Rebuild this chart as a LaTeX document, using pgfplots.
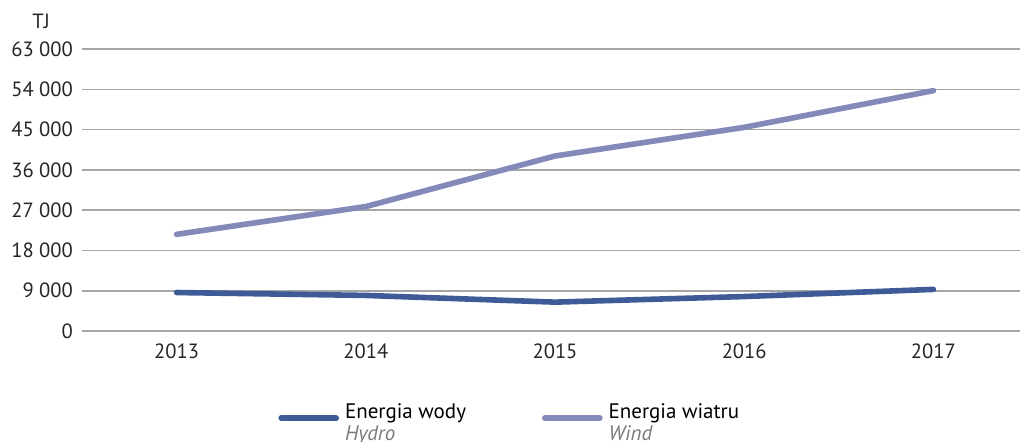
\documentclass[border=0pt]{standalone}
\usepackage{pgfplots}
\pgfplotsset{compat=1.18}
\usepackage{fontspec}
\setmainfont{PT Sans}
\definecolor{hydro}{HTML}{3E5A97}
\definecolor{wind}{HTML}{8389B8}
\definecolor{gridc}{HTML}{A6A6A6}
\definecolor{subc}{HTML}{7A7A7A}
\begin{document}
\begin{tikzpicture}
\begin{axis}[
  at={(0,0)}, anchor=south west,
  scale only axis, width=473pt, height=141pt,
  xmin=2012.5, xmax=2017.5, ymin=0, ymax=63000,
  scaled y ticks=false, scaled x ticks=false,
  xtick={2013,2014,2015,2016,2017},
  xticklabels={\mbox{2013},\mbox{2014},\mbox{2015},\mbox{2016},\mbox{2017}},
  ytick={0,9000,18000,27000,36000,45000,54000,63000},
  yticklabels={\mbox{0},\mbox{9 000},\mbox{18 000},\mbox{27 000},\mbox{36 000},\mbox{45 000},\mbox{54 000},\mbox{63 000}},
  axis line style={draw=none},
  major tick style={draw=none},
  ymajorgrids,
  grid style={gridc, line width=0.8pt},
  tick label style={font=\fontsize{10.3}{12}\selectfont, text=black!85},
  yticklabel style={xshift=-1pt},
  xticklabel style={yshift=-3pt},
  clip=false,
  legend columns=2,
  legend image code/.code={\draw[#1, line cap=round] (0pt,0pt) -- (27.5pt,0pt);},
  legend style={draw=none, fill=none, font=\fontsize{10.5}{11.5}\selectfont,
    at={(0.2072,-0.309)}, anchor=west, inner xsep=0pt,
    /tikz/every odd column/.append style={column sep=1pt},
    /tikz/every even column/.append style={column sep=36pt}},
]
\addplot[hydro, line width=2.8pt, line cap=round, line join=round] coordinates {
 (2013,8600) (2014,7950) (2015,6450) (2016,7700) (2017,9300)};
\addlegendentry{\begin{tabular}{@{}l@{}}Energia wody\\[-0.5pt]\color{subc}\itshape Hydro\end{tabular}}
\addplot[wind, line width=2.8pt, line cap=round, line join=round] coordinates {
 (2013,21600) (2014,27800) (2015,39100) (2016,45500) (2017,53700)};
\addlegendentry{\begin{tabular}{@{}l@{}}Energia wiatru\\[-0.5pt]\color{subc}\itshape Wind\end{tabular}}
\node[font=\fontsize{10.3}{12}\selectfont, text=black!85] at (axis description cs:-0.0433,1.097) {TJ};
\end{axis}
\pgfresetboundingbox
\path[use as bounding box] (-41pt,-55pt) rectangle (469pt,165.5pt);
\end{tikzpicture}
\end{document}
